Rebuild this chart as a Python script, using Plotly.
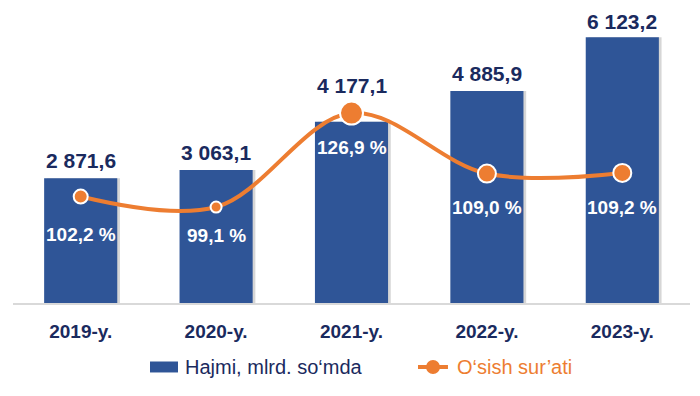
import plotly.graph_objects as go

categories = ["2019-y.", "2020-y.", "2021-y.", "2022-y.", "2023-y."]
volume = [2871.6, 3063.1, 4177.1, 4885.9, 6123.2]
volume_labels = ["2 871,6", "3 063,1", "4 177,1", "4 885,9", "6 123,2"]
growth = [102.2, 99.1, 126.9, 109.0, 109.2]
growth_labels = ["102,2 %", "99,1 %", "126,9 %", "109,0 %", "109,2 %"]

# styling (not data)
marker_sizes = [14, 11, 23, 18, 18]
value_label_shift = [5, 5, 24, 5, 3]
pct_label_shift = [-38, -28, -34, -34, -35]

BLUE = "#2F5597"
NAVY = "#1A2A5E"
ORANGE = "#ED7D31"
FONT = "Liberation Sans, Arial, sans-serif"

fig = go.Figure()

# subtle shadow behind the bars
fig.add_trace(go.Bar(
    x=categories, y=volume, width=0.54, offset=-0.25,
    marker=dict(color="rgba(0,0,0,0.16)", line=dict(width=0)),
    showlegend=False, hoverinfo="skip",
))
fig.add_trace(go.Bar(
    x=categories, y=volume, width=0.54, offset=-0.27,
    name="Hajmi, mlrd. so‘mda", showlegend=False,
    marker=dict(color=BLUE, line=dict(width=0)),
))
fig.add_trace(go.Scatter(
    x=categories, y=growth, yaxis="y2", mode="lines",
    name="O‘sish sur’ati", showlegend=False, opacity=1,
    line=dict(color=ORANGE, width=4, shape="spline", smoothing=1.0),
))
fig.add_trace(go.Scatter(
    x=categories, y=growth, yaxis="y2", mode="markers",
    showlegend=False, opacity=1, cliponaxis=False,
    marker=dict(color=ORANGE, opacity=1, size=marker_sizes,
                line=dict(color="#FFFFFF", width=2)),
))

for c, v, t, s in zip(categories, volume, volume_labels, value_label_shift):
    fig.add_annotation(x=c, y=v, yref="y", text=f"<b>{t}</b>", showarrow=False,
                       yanchor="bottom", yshift=s, borderpad=0,
                       font=dict(family=FONT, size=21, color=NAVY))
for c, g, t, s in zip(categories, growth, growth_labels, pct_label_shift):
    fig.add_annotation(x=c, y=g, yref="y2", text=f"<b>{t}</b>", showarrow=False,
                       yanchor="middle", yshift=s,
                       font=dict(family=FONT, size=19, color="white"))

# legend drawn manually to match the wide bar swatch
LEG_Y = -0.2169
fig.add_shape(type="rect", xref="paper", yref="paper",
              x0=0.2024, x1=0.2437, y0=LEG_Y - 0.0186, y1=LEG_Y + 0.0186,
              fillcolor=BLUE, line=dict(width=0))
fig.add_annotation(xref="paper", yref="paper", x=0.2511, y=LEG_Y, xanchor="left",
                   yanchor="middle", showarrow=False, text="Hajmi, mlrd. so‘mda",
                   font=dict(family=FONT, size=20, color=NAVY))
fig.add_shape(type="line", xref="paper", yref="paper",
              x0=0.5982, x1=0.6425, y0=LEG_Y, y1=LEG_Y,
              line=dict(color=ORANGE, width=4))
fig.add_shape(type="circle", xref="paper", yref="paper",
              x0=0.6204 - 0.0103, x1=0.6204 + 0.0103,
              y0=LEG_Y - 0.0237, y1=LEG_Y + 0.0237,
              fillcolor=ORANGE, line=dict(color=ORANGE, width=0))
fig.add_annotation(xref="paper", yref="paper", x=0.6529, y=LEG_Y, xanchor="left",
                   yanchor="middle", showarrow=False, text="O‘sish sur’ati",
                   font=dict(family=FONT, size=20, color=ORANGE))

fig.update_layout(
    width=692, height=388,
    margin=dict(l=5, r=10, t=0, b=93),
    paper_bgcolor="white", plot_bgcolor="white",
    barmode="overlay",
    hovermode=False,
    font=dict(family=FONT, color=NAVY),
    xaxis=dict(
        type="category", range=[-0.5, 4.5],
        showline=True, linecolor="#D9D9D9", linewidth=1.5,
        showgrid=False, ticks="", ticklabelstandoff=10,
        tickfont=dict(family=FONT, size=19, color=NAVY, weight="bold"),
    ),
    yaxis=dict(range=[0, 6797], showgrid=False, showticklabels=False, zeroline=False),
    yaxis2=dict(range=[70.7, 158.0], overlaying="y", side="right",
                showgrid=False, showticklabels=False, zeroline=False),
    showlegend=False,
)

fig.write_html("out.html")
